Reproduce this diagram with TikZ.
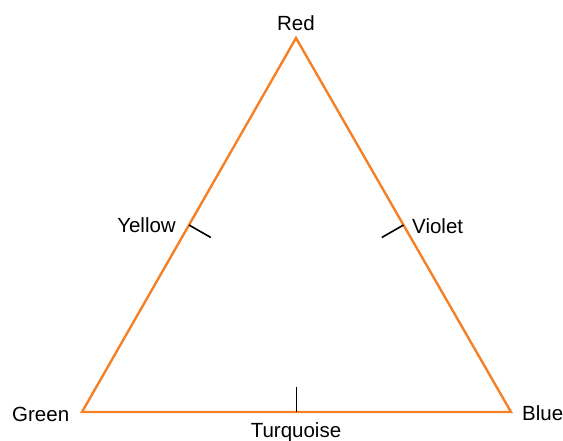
\documentclass[tikz,border=0pt]{standalone}
\usepackage{fontspec}
\setmainfont{Liberation Sans}
\usetikzlibrary{calc}
\definecolor{edgeorange}{RGB}{245,128,37}

\begin{document}
\begin{tikzpicture}[x=1pt, y=-1pt,
    every node/.style={font=\fontsize{20.5}{24}\selectfont, inner sep=0pt},
    side/.style={edgeorange, line width=2.4pt, line join=miter},
    tick/.style={black, line width=1.6pt}]
  \useasboundingbox (0,0) rectangle (563,440);

  \coordinate (R) at (296,38);
  \coordinate (G) at (82,412);
  \coordinate (B) at (511,412);

  % midpoints of the sides and the inward ticks
  \coordinate (Y) at ($(G)!0.5!(R)$);
  \coordinate (V) at ($(B)!0.5!(R)$);
  \coordinate (T) at ($(G)!0.5!(B)$);
  \coordinate (Yt) at ($(Y)!25pt!-90:(R)$);
  \coordinate (Vt) at ($(V)!25pt!90:(R)$);
  \coordinate (Tt) at ($(T)+(0,-25)$);

  \draw[side] (R) -- (G) -- (B) -- cycle;

  \draw[tick] (Y) -- (Yt);
  \draw[tick] (V) -- (Vt);
  \draw[tick] (T) -- (Tt);

  \node[anchor=base] (lred) at (296,30) {Red};
  \node[anchor=base east] (lyellow) at (176,232) {Yellow};
  \node[anchor=base west] (lviolet) at (412,233) {Violet};
  \node[anchor=base west] (lgreen) at (12,421) {Green};
  \node[anchor=base west] (lblue) at (522,420) {Blue};
  \node[anchor=base] (lturq) at (296,437) {Turquoise};
\end{tikzpicture}
\end{document}
